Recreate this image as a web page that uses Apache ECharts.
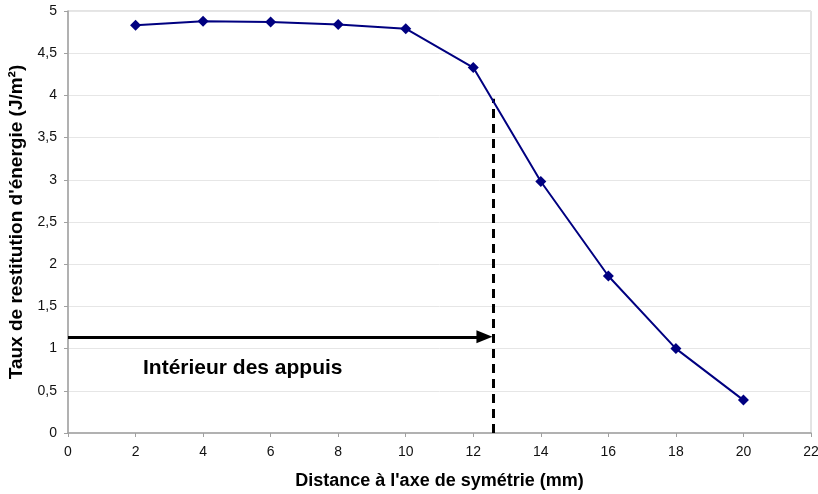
<!DOCTYPE html>
<html><head><meta charset="utf-8">
<script src="https://cdn.jsdelivr.net/npm/echarts@6/dist/echarts.min.js"></script>
<style>html,body{margin:0;padding:0;background:#fff}#c{width:818px;height:494px}</style>
</head><body><div id="c"></div>
<script>
var distances = [2, 4, 6, 8, 10, 12, 14, 16, 18, 20];
var energyRates = [4.83, 4.88, 4.87, 4.84, 4.79, 4.33, 2.98, 1.86, 1.00, 0.39];
var dashedLineX = [12.58];
var dashedLineY = [0, 3.96];
var arrowX = [0, 12.33];
var arrowY = [1.14];
var annotationText = ['Intérieur des appuis'];
var annotationPos = [2.22, 0.77];
var xTitle = "Distance à l'axe de symétrie (mm)";
var yTitle = "Taux de restitution d'énergie (J/m²)";

var font = 'Liberation Sans, Arial, sans-serif';
var chart = echarts.init(document.getElementById('c'));
var fmt = function(v){ return String(v).replace('.', ','); };
chart.setOption({
  animation: false,
  grid: {left: 68, right: 7, top: 11, bottom: 61, show: true, borderColor: '#c8c8c8', borderWidth: 1, outerBoundsMode: 'none', containLabel: false},
  xAxis: {
    type: 'value', min: 0, max: 22, interval: 2,
    name: xTitle, nameLocation: 'middle', nameGap: 39,
    nameTextStyle: {fontFamily: font, fontWeight: 'bold', fontSize: 18, color: '#000'},
    axisLine: {lineStyle: {color: '#a0a0a0', width: 1.5}},
    axisTick: {show: true, length: 4, lineStyle: {color: '#a0a0a0'}},
    axisLabel: {fontFamily: font, fontSize: 14, color: '#111', margin: 12, formatter: fmt},
    splitLine: {show: false}
  },
  yAxis: {
    type: 'value', min: 0, max: 5, interval: 0.5,
    name: yTitle, nameLocation: 'middle', nameGap: 37, nameRotate: 90,
    nameTextStyle: {fontFamily: font, fontWeight: 'bold', fontSize: 19, color: '#000'},
    axisLine: {show: true, lineStyle: {color: '#a0a0a0', width: 1.5}},
    axisTick: {show: true, length: 4, lineStyle: {color: '#a0a0a0'}},
    axisLabel: {fontFamily: font, fontSize: 14, color: '#111', margin: 11, formatter: fmt},
    splitLine: {show: true, lineStyle: {color: '#e6e6e6', width: 1}}
  },
  series: [{
    type: 'line',
    data: distances.map(function(d, i){ return [d, energyRates[i]]; }),
    symbol: 'diamond', symbolSize: 11,
    lineStyle: {color: '#000080', width: 2},
    itemStyle: {color: '#000080'},
    z: 5,
    markLine: {
      silent: true,
      animation: false,
      label: {show: false},
      data: [
        [{coord: [dashedLineX[0], dashedLineY[0]], symbol: 'none'},
         {coord: [dashedLineX[0], dashedLineY[1]], symbol: 'none',
          lineStyle: {color: '#000', width: 3, type: [9, 6]}}],
        [{coord: [arrowX[0], arrowY[0]], symbol: 'none'},
         {coord: [arrowX[1], arrowY[0]], symbol: 'triangle', symbolSize: [13, 16],
          lineStyle: {color: '#000', width: 3, type: 'solid'}}]
      ],
      lineStyle: {color: '#000', width: 3}
    }
  }]
});
var p = chart.convertToPixel({gridIndex: 0}, annotationPos);
chart.setOption({
  graphic: [{
    type: 'text', x: p[0], y: p[1],
    style: {text: annotationText[0], font: 'bold 21px ' + font, fill: '#000', textAlign: 'left', textVerticalAlign: 'middle'}
  }]
});
</script></body></html>
